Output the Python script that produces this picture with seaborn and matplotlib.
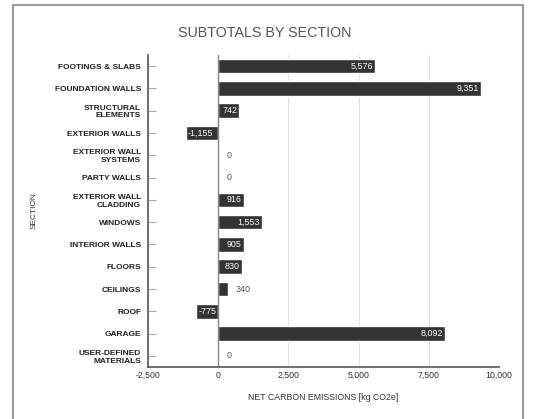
import matplotlib
matplotlib.use("Agg")
import matplotlib.pyplot as plt
import seaborn as sns
import pandas as pd
from matplotlib.patches import Rectangle

categories = ["FOOTINGS & SLABS", "FOUNDATION WALLS", "STRUCTURAL\nELEMENTS", "EXTERIOR WALLS",
              "EXTERIOR WALL\nSYSTEMS", "PARTY WALLS", "EXTERIOR WALL\nCLADDING", "WINDOWS",
              "INTERIOR WALLS", "FLOORS", "CEILINGS", "ROOF", "GARAGE", "USER-DEFINED\nMATERIALS"]
values = [5576, 9351, 742, -1155, 0, 0, 916, 1553, 905, 830, 340, -775, 8092, 0]
x_ticks = [-2500, 0, 2500, 5000, 7500, 10000]

sns.set_style("white")
plt.rcParams['font.family'] = ['Liberation Sans', 'DejaVu Sans']

df = pd.DataFrame({"section": categories, "value": values})

fig = plt.figure(figsize=(5.39, 4.19), dpi=100)
ax = fig.add_axes([148/539, 1 - 367/419, (499-148)/539, (367-55)/419])

sns.barplot(data=df, y="section", x="value", orient="h", color="#333333",
            width=0.65, ax=ax, saturation=1)

ax.set_xlim(-2500, 10000)
ax.set_xticks(x_ticks)
ax.set_xticklabels([f"{t:,}" for t in x_ticks], fontsize=6.3, color="#333333")
ax.tick_params(axis='x', length=0, pad=3)
ax.tick_params(axis='y', left=True, direction='in', length=6, width=0.8, color="#aaaaaa",
               labelsize=6.0, pad=5, labelcolor="#222222")
for lab in ax.get_yticklabels():
    lab.set_fontweight("bold")
    lab.set_linespacing(1.15)

ax.grid(axis='x', color="#e2e2e2", linewidth=0.8)
ax.set_axisbelow(True)
ax.axvline(0, color="#888888", linewidth=1.0, zorder=1)
for s in ["top", "right"]:
    ax.spines[s].set_visible(False)
ax.spines["left"].set_color("#555555")
ax.spines["bottom"].set_color("#555555")
ax.spines["left"].set_linewidth(1.2)
ax.spines["bottom"].set_linewidth(1.2)

ax.set_ylabel("SECTION", fontsize=6.0, color="#333333")
ax.yaxis.set_label_coords((38 - 148) / 351, 0.5)
ax.set_xlabel("NET CARBON EMISSIONS [kg CO2e]", fontsize=6.3, color="#333333", labelpad=9)

# value labels
span = 12500 / 351.0  # data units per pixel
for i, v in enumerate(values):
    txt = f"{v:,}"
    if v >= 700:
        ax.text(v - 2 * span, i, txt, ha="right", va="center", color="white", fontsize=6.4)
    elif v <= -700:
        ax.text(v + 2 * span, i, txt, ha="left", va="center", color="white", fontsize=6.4)
    else:
        ax.text(max(v, 0) + 8 * span, i, txt, ha="left", va="center", color="#555555", fontsize=6.4)

fig.text(265/539, 1 - 33/419, "SUBTOTALS BY SECTION", ha="center", va="center",
         fontsize=10.3, color="#555555")

fig.patches.append(Rectangle((13/539, -0.05), (523-13)/539, 1 - 5/419 + 0.05,
                             transform=fig.transFigure, fill=False,
                             edgecolor="#999999", linewidth=1.5))

fig.savefig("out.png", dpi=100)
